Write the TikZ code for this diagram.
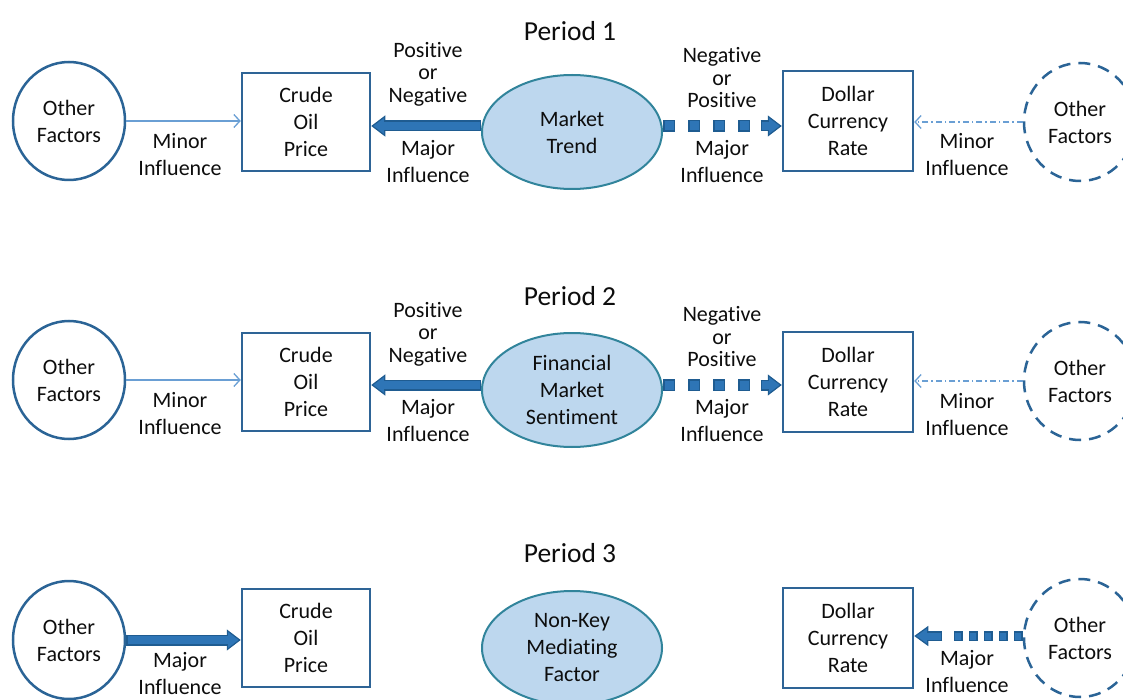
\documentclass[tikz,border=0pt]{standalone}
\usepackage{fontspec}
\setmainfont{Carlito}[Ligatures=NoCommon]
\usetikzlibrary{arrows.meta,shapes.geometric,calc}
\definecolor{circ}{HTML}{2B6496}
\definecolor{boxc}{HTML}{2E6496}
\definecolor{ellc}{HTML}{31849B}
\definecolor{ellf}{HTML}{BDD7EE}
\definecolor{arrf}{HTML}{2E75B6}
\definecolor{arrdk}{HTML}{1F5C91}
\definecolor{minc}{HTML}{6A9FD4}
\definecolor{txt}{HTML}{0D0D0D}
\newcommand\majorhead[2]{%
  \draw[arrdk, line width=11pt, -{Triangle[length=14pt,width=21pt,fill=arrf,line width=1.2pt]}] (#1) -- (#2);
  \draw[arrf, line width=8pt, shorten >=13pt, shorten <=1.5pt] (#1) -- (#2);}
\newcommand\majordashbig[2]{%
  \coordinate (hd) at ($(#2)!21pt!(#1)$);
  \draw[arrdk, line width=12pt, dash pattern=on 12pt off 13pt, shorten >=24pt] (#1) -- (#2);
  \draw[arrf, line width=9pt, dash pattern=on 9pt off 16pt, dash phase=23.5pt, shorten >=24pt] (#1) -- (#2);
  \majorhead{hd}{#2}}
\newcommand\majordashsmall[2]{%
  \coordinate (hd) at ($(#2)!28pt!(#1)$);
  \draw[arrdk, line width=10pt, dash pattern=on 9pt off 6pt, shorten >=36pt] (#1) -- (#2);
  \draw[arrf, line width=7pt, dash pattern=on 6pt off 9pt, dash phase=13.5pt, shorten >=36pt] (#1) -- (#2);
  \draw[arrdk, line width=10pt, -{Triangle[length=14pt,width=20pt,fill=arrf,line width=1.2pt]}] (hd) -- (#2);
  \draw[arrf, line width=7pt, shorten >=13pt, shorten <=1.5pt] (hd) -- (#2);}
\begin{document}
\begin{tikzpicture}[x=1pt,y=-1pt,
  every node/.style={font=\fontsize{22}{27}\selectfont, text=txt, inner sep=0pt, align=center},
  ofact/.style={ellipse, draw=circ, line width=2.5pt, minimum width=112pt, minimum height=118pt},
  ofactd/.style={ofact, dash pattern=on 12pt off 8pt},
  boxn/.style={draw=boxc, line width=2.5pt, minimum width=128pt, minimum height=98pt},
  boxd/.style={boxn, minimum width=130pt, minimum height=100pt},
  mediator/.style={ellipse, draw=ellc, fill=ellf, line width=2pt, minimum width=180pt, minimum height=114pt},
  tight/.style={font=\fontsize{22}{22.5}\selectfont},
  period/.style={font=\fontsize{27.5}{30}\selectfont},
  minor/.style={draw=minc, line width=1.3pt, -{Straight Barb[length=6pt,width=13pt]}},
  minordd/.style={minor, dash pattern=on 6pt off 3pt on 1.5pt off 3pt},
]
\useasboundingbox (0,0) rectangle (1123,700);
\clip (0,0) rectangle (1123,700);

% ---------- Period 1 ----------
\node[period] (p1) at (570,31) {Period 1};
\node[ofact] (of1) at (69,121) {Other\\Factors};
\node[boxn] (cop1) at (306,122) {Crude\\Oil\\Price};
\node[mediator] (m1) at (572,132) {Market\\Trend};
\node[boxd] (dcr1) at (848,121) {Dollar\\Currency\\Rate};
\node[ofactd] (ofr1) at (1080,122) {Other\\Factors};
\node[tight] (l1a) at (428,74) {Positive\\or\\Negative};
\node (l1b) at (428,162) {Major\\Influence};
\node[tight] (l1c) at (722,78) {Negative\\or\\Positive};
\node (l1d) at (722,162) {Major\\Influence};
\node (l1e) at (180,155) {Minor\\Influence};
\node (l1f) at (967,155) {Minor\\Influence};
\coordinate (y1) at (0,126);
\coordinate (s1a) at (m1.west |- y1);
\coordinate (e1a) at (cop1.east |- y1);
\coordinate (s1b) at (m1.east |- y1);
\coordinate (e1b) at (dcr1.west |- y1);
\draw[minor] (of1.east) -- (cop1.west |- of1.east);
\draw[minordd] (ofr1.west) -- (dcr1.east |- ofr1.west);
\majorhead{s1a}{e1a}
\majordashbig{s1b}{e1b}

% ---------- Period 2 ----------
\node[period] (p2) at (570,296) {Period 2};
\node[ofact] (of2) at (69,380) {Other\\Factors};
\node[boxn] (cop2) at (306,382) {Crude\\Oil\\Price};
\node[mediator] (m2) at (572,390) {Financial\\Market\\Sentiment};
\node[boxd] (dcr2) at (848,382) {Dollar\\Currency\\Rate};
\node[ofactd] (ofr2) at (1080,381) {Other\\Factors};
\node[tight] (l2a) at (428,334) {Positive\\or\\Negative};
\node (l2b) at (428,421) {Major\\Influence};
\node[tight] (l2c) at (722,337) {Negative\\or\\Positive};
\node (l2d) at (722,421) {Major\\Influence};
\node (l2e) at (180,414) {Minor\\Influence};
\node (l2f) at (967,415) {Minor\\Influence};
\coordinate (y2) at (0,385);
\coordinate (s2a) at (m2.west |- y2);
\coordinate (e2a) at (cop2.east |- y2);
\coordinate (s2b) at (m2.east |- y2);
\coordinate (e2b) at (dcr2.west |- y2);
\draw[minor] (of2.east) -- (cop2.west |- of2.east);
\draw[minordd] (ofr2.west) -- (dcr2.east |- ofr2.west);
\majorhead{s2a}{e2a}
\majordashbig{s2b}{e2b}

% ---------- Period 3 ----------
\node[period] (p3) at (570,553) {Period 3};
\node[ofact] (of3) at (69,640) {Other\\Factors};
\node[boxn] (cop3) at (306,638) {Crude\\Oil\\Price};
\node[mediator] (m3) at (572,648) {Non-Key\\Mediating\\Factor};
\node[boxd] (dcr3) at (848,638) {Dollar\\Currency\\Rate};
\node[ofactd] (ofr3) at (1080,638) {Other\\Factors};
\node (l3a) at (180,674) {Major\\Influence};
\node (l3b) at (967,672) {Major\\Influence};
\coordinate (y3) at (0,636);
\coordinate (s3a) at (of3.east);
\coordinate (e3a) at (cop3.west |- of3.east);
\coordinate (s3b) at (ofr3.west |- y3);
\coordinate (e3b) at (dcr3.east |- y3);
\majorhead{s3a}{e3a}
\majordashsmall{s3b}{e3b}
\end{tikzpicture}
\end{document}
